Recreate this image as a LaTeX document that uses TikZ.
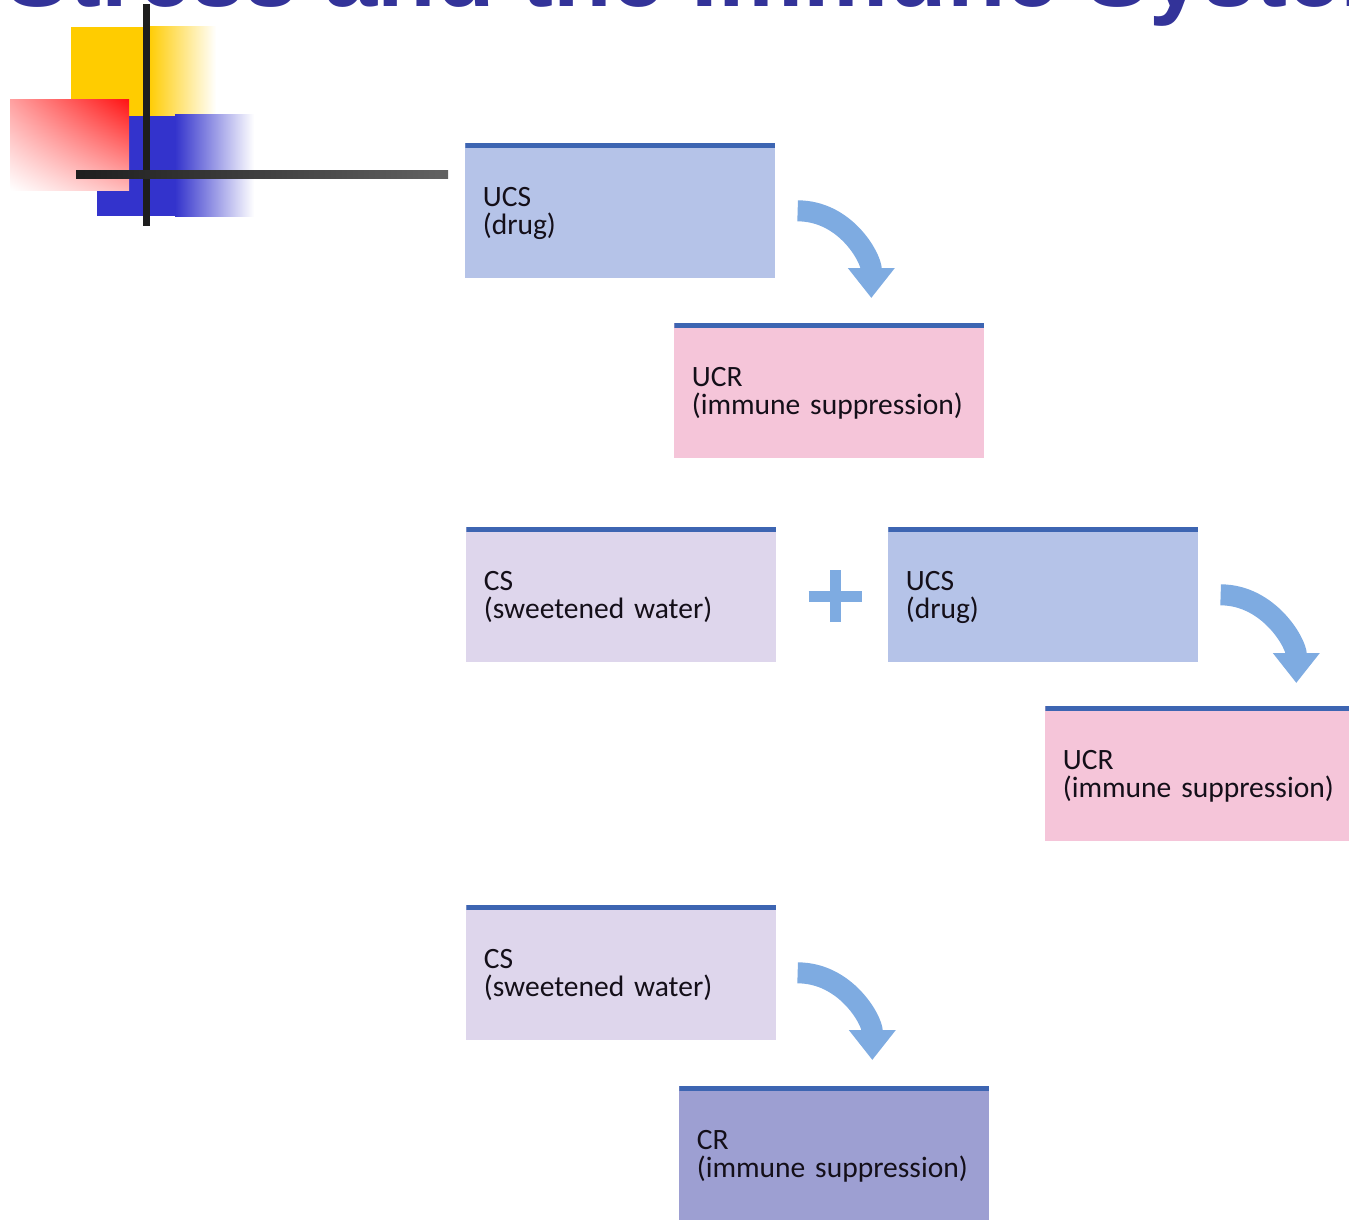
\documentclass[tikz,border=0pt]{standalone}
\usepackage{fontspec}
\setmainfont{Carlito}
\newfontfamily\titlefont{Liberation Sans}
\usepackage{tikz}
\usetikzlibrary{arrows.meta, positioning, shadings}
\usepackage{xcolor}
\definecolor{ucsBlue}{RGB}{181, 195, 232}
\definecolor{ucrPink}{RGB}{245, 197, 217}
\definecolor{csLilac}{RGB}{222, 214, 236}
\definecolor{crPurple}{RGB}{157, 159, 210}
\definecolor{barBlue}{RGB}{61, 101, 178}
\definecolor{arrowBlue}{RGB}{126, 171, 225}
\definecolor{titleBlue}{RGB}{51, 51, 153}
\definecolor{crossYellow}{RGB}{255, 204, 0}
\definecolor{crossBlue}{RGB}{51, 51, 204}
\definecolor{crossRed}{RGB}{255, 20, 20}
\definecolor{lineDark}{RGB}{30, 30, 30}
\definecolor{lineGray}{RGB}{98, 98, 98}
\definecolor{inkDark}{RGB}{20, 15, 25}

\tikzset{
  stage/.style={rectangle, anchor=north west, minimum width=6.2cm, minimum height=2.7cm,
    inner xsep=0.35cm, text width=5.5cm, text depth=16pt, align=left, text=inkDark,
    font=\fontsize{16.8}{16}\selectfont,
    path picture={\fill[barBlue] (path picture bounding box.north west)
      rectangle ([yshift=-0.1cm]path picture bounding box.north east);}},
  flowArrow/.style={draw=arrowBlue, line width=0.42cm,
    -{Triangle[width=0.9cm, length=0.6cm]}}
}

\begin{document}
\begin{tikzpicture}[x=0.02cm, y=-0.02cm]
  \useasboundingbox (0,0) rectangle (1349,1220);
  \clip (0,0) rectangle (1349,1220);

  % corner ornament
  \fill[crossYellow] (71,27) rectangle (148,116);
  \shade[left color=crossYellow, right color=white] (148,27) rectangle (216,116);
  \fill[crossBlue] (97,116) rectangle (175,216);
  \shade[left color=crossBlue, right color=white] (175,115) rectangle (254,216);
  \shade[upper left=crossRed!40, upper right=crossRed, lower left=white, lower right=crossRed!30]
    (10,100) rectangle (129,190);
  \fill[lineDark] (143,4) rectangle (150,226);
  \shade[left color=lineDark, right color=lineGray] (76,170) rectangle (448,178);

  % title
  \node[anchor=base west, inner sep=0pt, text=titleBlue,
    font=\titlefont\bfseries\fontsize{54.5}{54.5}\selectfont] (title) at (5,7)
    {Stress and the Immune System};

  % before conditioning
  \node[stage, fill=ucsBlue] (ucsA) at (465,143) {UCS\\(drug)};
  \node[stage, fill=ucrPink] (ucrA) at (674,323) {UCR\\(immune suppression)};

  % during conditioning
  \node[stage, fill=csLilac] (csA) at (466,527) {CS\\(sweetened water)};
  \node[stage, fill=ucsBlue] (ucsB) at (888,527) {UCS\\(drug)};
  \node[stage, fill=ucrPink] (ucrB) at (1045,706) {UCR\\(immune suppression)};
  \coordinate (plus) at (835,596);

  % after conditioning
  \node[stage, fill=csLilac] (csB) at (466,905) {CS\\(sweetened water)};
  \node[stage, fill=crPurple] (cr) at (679,1086) {CR\\(immune suppression)};

  % arrows
  \draw[flowArrow] ([xshift=0.44cm]ucsA.east) .. controls +(48,0) and +(0,-40) .. ([xshift=0.84cm, yshift=0.5cm]ucrA.north);
  \draw[flowArrow] ([xshift=0.44cm]ucsB.east) .. controls +(48,0) and +(0,-40) .. ([xshift=1.92cm, yshift=0.46cm]ucrB.north);
  \draw[flowArrow] ([xshift=0.42cm]csB.east) .. controls +(48,0) and +(0,-40) .. ([xshift=0.76cm, yshift=0.52cm]cr.north);
  \draw[arrowBlue, line width=0.22cm] ([xshift=-0.53cm]plus) -- ([xshift=0.53cm]plus);
  \draw[arrowBlue, line width=0.22cm] ([yshift=-0.52cm]plus) -- ([yshift=0.52cm]plus);
\end{tikzpicture}
\end{document}
